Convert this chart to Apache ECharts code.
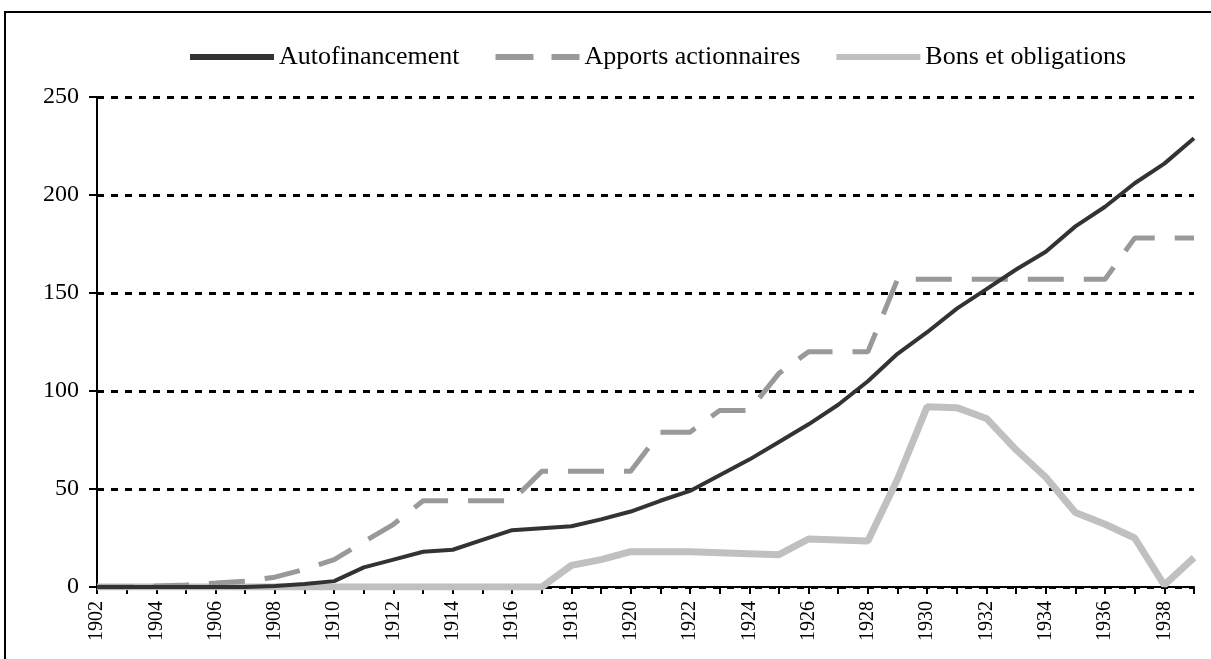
<!DOCTYPE html>
<html><head><meta charset="utf-8">
<script src="https://cdn.jsdelivr.net/npm/echarts@6/dist/echarts.min.js"></script>
<style>html,body{margin:0;padding:0;background:#fff}#c{width:1211px;height:659px}</style>
</head><body><div id="c"></div>
<script>
const years = [];
for (let y = 1902; y <= 1939; y++) years.push(String(y));
const autofinancement = [0,0,0,0,0,0,0.5,1.5,3,10,14,18,19,24,29,30,31,34.5,38.5,44,49,57,65,74,83,93,105,119,130,142,152,162,171,184,194,206,216,229];
const apports = [0,0,0.5,1,2,3,5,9,14,23,32,44,44,44,44,59,59,59,59,79,79,90,90,109,120,120,120,157,157,157,157,157,157,157,157,178,178,178];
const bons = [0,0,0,0,0,0,0,0,0,0,0,0,0,0,0,0,11,14,18,18,18,17.5,17,16.5,24.5,24,23.5,55,92,91.5,86,70,56,38,32,25,1,15];
const yTicks = [0,50,100,150,200,250];

const chart = echarts.init(document.getElementById('c'));
const font = '"Liberation Serif", "Times New Roman", serif';
chart.setOption({
  animation: false,
  textStyle: {fontFamily: font},
  graphic: [{type:'rect', shape:{x:5,y:12,width:1220,height:700}, style:{fill:'none', stroke:'#000', lineWidth:2}, silent:true, z:-1}],
  legend: {
    top: 39, left: 185, itemWidth: 84, itemHeight: 6, itemGap: 36,
    textStyle: {fontFamily: font, fontSize: 26, color: '#000'},
    data: [
      {name:'Autofinancement', icon:'path://M0,0H84V6H0Z', itemStyle:{color:'#333333'}},
      {name:'Apports actionnaires', icon:'path://M0,0H38V6H0Z M56,0H84V6H56Z', itemStyle:{color:'#999999'}},
      {name:'Bons et obligations', icon:'path://M0,0H84V6H0Z', itemStyle:{color:'#c0c0c0'}}
    ]
  },
  grid: {left: 97, right: 17, top: 97, bottom: 72},
  xAxis: {
    type: 'category', data: years, boundaryGap: false,
    axisLine: {lineStyle: {color:'#000', width: 2}},
    axisTick: {show: true, interval: 0, length: 7, lineStyle: {color:'#000', width: 2}},
    axisLabel: {interval: 1, rotate: 90, fontFamily: font, fontSize: 20, color:'#000', margin: 14},
    splitLine: {show: false}
  },
  yAxis: {
    type: 'value', min: yTicks[0], max: yTicks[yTicks.length-1], interval: 50,
    axisLine: {show: true, lineStyle: {color:'#000', width: 2}},
    axisTick: {show: true, length: 8, lineStyle: {color:'#000', width: 2}},
    axisLabel: {fontFamily: font, fontSize: 24, color:'#000', margin: 18},
    splitLine: {lineStyle: {color:'#000', width: 3, type: [7,7]}}
  },
  series: [
    {name:'Autofinancement', type:'line', data: autofinancement, symbol:'none', z:3,
     lineStyle:{color:'#333333', width:4}, itemStyle:{color:'#333333'}},
    {name:'Apports actionnaires', type:'line', data: apports, symbol:'none', z:2,
     lineStyle:{color:'#999999', width:5, type:[36,20]}, itemStyle:{color:'#999999'}},
    {name:'Bons et obligations', type:'line', data: bons, symbol:'none', z:1,
     lineStyle:{color:'#c0c0c0', width:7}, itemStyle:{color:'#c0c0c0'}}
  ]
});
</script></body></html>
